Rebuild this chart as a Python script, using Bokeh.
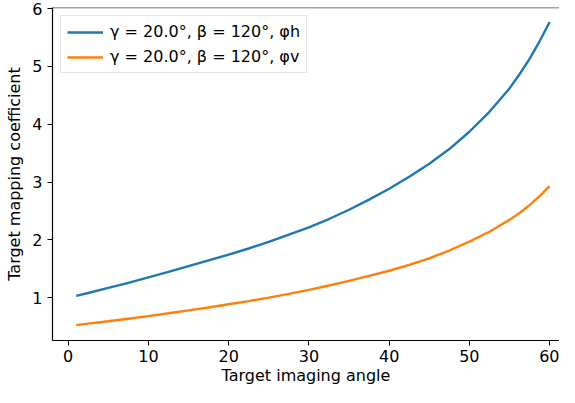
from bokeh.plotting import figure
from bokeh.models import Range1d, Span, Legend, LegendItem, FixedTicker
from bokeh.embed import file_html
from bokeh.resources import INLINE

# Data
angle = [1, 2.5, 5, 7.5, 10, 12.5, 15, 17.5, 20, 22.5, 25, 27.5, 30, 32.5, 35,
         37.5, 40, 42.5, 45, 47.5, 50, 52.5, 55, 56.25, 57.5, 58.75, 60]
phi_h = [1.03, 1.08, 1.17, 1.255, 1.35, 1.445, 1.545, 1.645, 1.745, 1.85, 1.965,
         2.09, 2.215, 2.36, 2.52, 2.695, 2.885, 3.09, 3.315, 3.57, 3.87, 4.215,
         4.62, 4.865, 5.13, 5.435, 5.77]
phi_v = [0.525, 0.55, 0.59, 0.635, 0.68, 0.73, 0.78, 0.83, 0.885, 0.94, 1.0,
         1.065, 1.135, 1.21, 1.29, 1.375, 1.465, 1.565, 1.68, 1.815, 1.97, 2.14,
         2.345, 2.465, 2.60, 2.755, 2.93]
x_ticks = [0, 10, 20, 30, 40, 50, 60]
y_ticks = [1, 2, 3, 4, 5, 6]
label_h = "γ = 20.0°, β = 120°, φh"
label_v = "γ = 20.0°, β = 120°, φv"

FONT = "DejaVu Sans"
FS = "16px"

p = figure(width=559, height=387, output_backend="svg", toolbar_location=None,
           x_range=Range1d(-1.95, 61.23), y_range=Range1d(0.258, 6.02),
           min_border_left=52, min_border_right=0, min_border_top=7,
           min_border_bottom=0)
p.grid.visible = False
p.outline_line_color = None
p.background_fill_color = "white"

r1 = p.line(angle, phi_h, line_color="#1f77b4", line_width=2.4)
r2 = p.line(angle, phi_v, line_color="#ff7f0e", line_width=2.4)

for ax in (p.xaxis[0], p.yaxis[0]):
    ax.axis_line_color = "black"
    ax.axis_line_width = 1.2
    ax.major_tick_line_color = "black"
    ax.major_tick_out = 5
    ax.major_tick_in = 0
    ax.minor_tick_line_color = None
    ax.major_label_text_font = FONT
    ax.major_label_text_font_size = FS
    ax.major_label_text_color = "black"
    ax.axis_label_text_font = FONT
    ax.axis_label_text_font_size = FS
    ax.axis_label_text_font_style = "normal"
    ax.axis_label_text_color = "black"

p.xaxis[0].major_label_standoff = 4
p.xaxis[0].axis_label_standoff = 1
p.yaxis[0].major_label_standoff = 5
p.yaxis[0].axis_label_standoff = 5

p.xaxis[0].ticker = FixedTicker(ticks=x_ticks)
p.yaxis[0].ticker = FixedTicker(ticks=y_ticks)
p.xaxis[0].axis_label = "Target imaging angle"
p.yaxis[0].axis_label = "Target mapping coefficient"

top_spine = Span(location=6.02, dimension="width", line_color="#444444",
                 line_width=1.5)
p.add_layout(top_spine)

legend = Legend(items=[LegendItem(label=label_h, renderers=[r1]),
                       LegendItem(label=label_v, renderers=[r2])],
                location="top_left")
legend.margin = 8
legend.padding = 6
legend.spacing = 6
legend.label_height = 16
legend.glyph_height = 16
legend.glyph_width = 36
legend.label_standoff = 7
legend.label_text_font = FONT
legend.label_text_font_size = FS
legend.label_text_color = "black"
legend.border_line_color = "#cccccc"
legend.border_line_width = 1
legend.background_fill_color = "white"
legend.background_fill_alpha = 0.8
p.add_layout(legend)

open("out.html", "w").write(file_html(p, INLINE))
